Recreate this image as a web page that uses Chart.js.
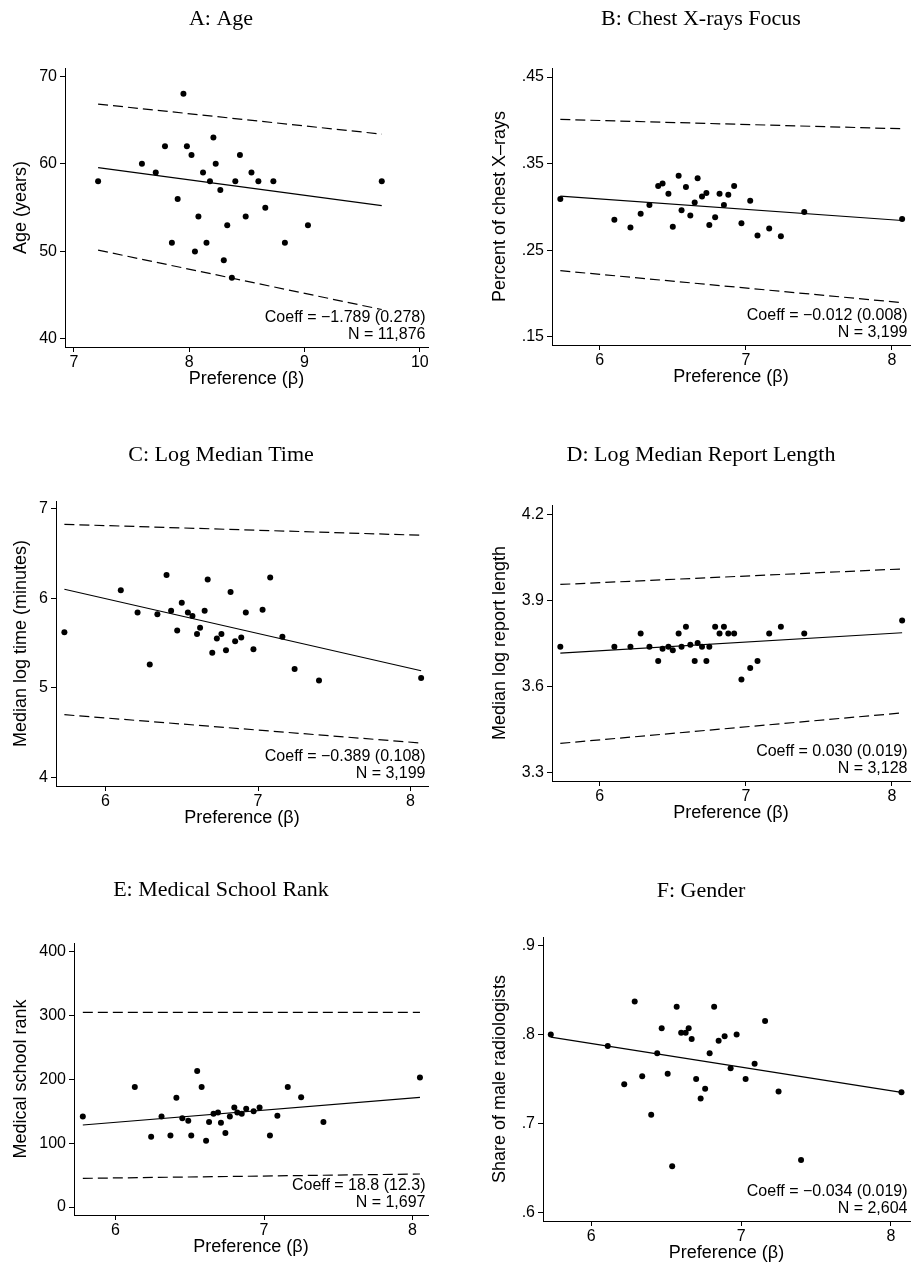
<!DOCTYPE html>
<html>
<head>
<meta charset="utf-8">
<title>Preference and radiologist characteristics</title>
<script src="https://cdn.jsdelivr.net/npm/chart.js@4.4.1/dist/chart.umd.min.js"></script>
<style>
  html, body { margin: 0; padding: 0; background: #fff; }
  #figure { position: relative; width: 915px; height: 1266px; overflow: hidden; }
  #figure canvas { position: absolute; }
</style>
</head>
<body>
<div id="figure"></div>
<script>
// A: Age
const ageBeta = [7.21, 7.59, 7.71, 7.79, 7.85, 7.90, 7.95, 7.98, 8.02, 8.05, 8.08, 8.12, 8.15, 8.18, 8.21,
                 8.23, 8.27, 8.30, 8.33, 8.37, 8.40, 8.44, 8.49, 8.54, 8.60, 8.66, 8.73, 8.83, 9.03, 9.67];
const ageValue = [58, 60, 59, 62, 51, 56, 68, 62, 61, 50, 54, 59, 51, 58, 63,
                  60, 57, 49, 53, 47, 58, 61, 54, 59, 58, 55, 58, 51, 53, 58];
const ageFit = [59.58, 55.23];
const ageUpper = [66.83, 63.40];
const ageLower = [50.15, 43.36];
const ageXTicks = ['7', '8', '9', '10'];
const ageYTicks = ['40', '50', '60', '70'];
const ageNote = ['Coeff = −1.789 (0.278)', 'N = 11,876'];

// B: Chest X-rays Focus
const chestBeta = [5.73, 6.10, 6.21, 6.28, 6.34, 6.40, 6.43, 6.47, 6.50, 6.54, 6.56, 6.59, 6.62, 6.65, 6.67,
                   6.70, 6.73, 6.75, 6.79, 6.82, 6.85, 6.88, 6.92, 6.97, 7.03, 7.08, 7.16, 7.24, 7.40, 8.07];
const chestShare = [.309, .285, .276, .292, .302, .324, .327, .315, .277, .336, .296, .323, .290, .305, .333,
                    .312, .316, .279, .288, .315, .302, .314, .324, .281, .307, .267, .275, .266, .294, .286];
const chestFit = [.3123, .2842];
const chestUpper = [.4010, .3902];
const chestLower = [.2263, .1893];
const chestXTicks = ['6', '7', '8'];
const chestYTicks = ['.15', '.25', '.35', '.45'];
const chestNote = ['Coeff = −0.012 (0.008)', 'N = 3,199'];

// C: Log Median Time
const timeBeta = [5.73, 6.10, 6.21, 6.29, 6.34, 6.40, 6.43, 6.47, 6.50, 6.54, 6.57, 6.60, 6.62, 6.65, 6.67,
                  6.70, 6.73, 6.76, 6.79, 6.82, 6.85, 6.89, 6.92, 6.97, 7.03, 7.08, 7.16, 7.24, 7.40, 8.07];
const timeLog = [5.62, 6.09, 5.84, 5.26, 5.82, 6.26, 5.86, 5.64, 5.95, 5.84, 5.80, 5.60, 5.67, 5.86, 6.21,
                 5.39, 5.55, 5.60, 5.42, 6.07, 5.52, 5.56, 5.84, 5.43, 5.87, 6.23, 5.57, 5.21, 5.08, 5.11];
const timeFit = [6.10, 5.19];
const timeUpper = [6.825, 6.703];
const timeLower = [4.699, 4.383];
const timeXTicks = ['6', '7', '8'];
const timeYTicks = ['4', '5', '6', '7'];
const timeNote = ['Coeff = −0.389 (0.108)', 'N = 3,199'];

// D: Log Median Report Length
const lengthBeta = [5.73, 6.10, 6.21, 6.28, 6.34, 6.40, 6.43, 6.47, 6.50, 6.54, 6.56, 6.59, 6.62, 6.65, 6.67,
                    6.70, 6.73, 6.75, 6.79, 6.82, 6.85, 6.88, 6.92, 6.97, 7.03, 7.08, 7.16, 7.24, 7.40, 8.07];
const lengthLog = [3.739, 3.739, 3.739, 3.785, 3.739, 3.690, 3.732, 3.739, 3.727, 3.785, 3.739, 3.809, 3.746, 3.690, 3.752,
                   3.739, 3.690, 3.739, 3.809, 3.785, 3.809, 3.785, 3.785, 3.625, 3.665, 3.690, 3.785, 3.809, 3.785, 3.831];
const lengthFit = [3.717, 3.788];
const lengthUpper = [3.956, 4.010];
const lengthLower = [3.403, 3.509];
const lengthXTicks = ['6', '7', '8'];
const lengthYTicks = ['3.3', '3.6', '3.9', '4.2'];
const lengthNote = ['Coeff = 0.030 (0.019)', 'N = 3,128'];

// E: Medical School Rank
const rankBeta = [5.78, 6.13, 6.24, 6.31, 6.37, 6.41, 6.45, 6.49, 6.51, 6.55, 6.58, 6.61, 6.63, 6.66, 6.69,
                  6.71, 6.74, 6.77, 6.80, 6.82, 6.85, 6.88, 6.93, 6.97, 7.04, 7.09, 7.16, 7.25, 7.40, 8.05];
const rankValue = [142, 188, 110, 142, 112, 171, 139, 135, 112, 213, 188, 104, 133, 146, 148,
                   132, 116, 142, 156, 148, 146, 154, 150, 156, 112, 143, 188, 172, 133, 203];
const rankFit = [128.5, 171.8];
const rankUpper = [305, 305];
const rankLower = [44.9, 51.7];
const rankXTicks = ['6', '7', '8'];
const rankYTicks = ['0', '100', '200', '300', '400'];
const rankNote = ['Coeff = 18.8 (12.3)', 'N = 1,697'];

// F: Gender
const genderBeta = [5.73, 6.11, 6.22, 6.29, 6.34, 6.40, 6.44, 6.47, 6.51, 6.54, 6.57, 6.60, 6.63, 6.65, 6.67,
                    6.70, 6.73, 6.76, 6.79, 6.82, 6.85, 6.89, 6.93, 6.97, 7.03, 7.09, 7.16, 7.25, 7.40, 8.07];
const genderMale = [.800, .787, .744, .837, .753, .710, .779, .807, .756, .652, .831, .802, .802, .807, .795,
                    .750, .728, .739, .779, .831, .793, .798, .762, .800, .750, .767, .815, .736, .659, .735];
const genderFit = [.797, .735];
const genderXTicks = ['6', '7', '8'];
const genderYTicks = ['.6', '.7', '.8', '.9'];
const genderNote = ['Coeff = −0.034 (0.019)', 'N = 2,604'];

// Panel setup (axis ranges and page geometry)
const panels = [
  { title: 'A: Age', yTitle: 'Age (years)', x: ageBeta, y: ageValue, fit: ageFit, upper: ageUpper, lower: ageLower,
    xTicks: ageXTicks, yTicks: ageYTicks, note: ageNote, xRange: [6.923, 10.071], yRange: [39.08, 70.95],
    box: { canvasLeft: 10, canvasTop: 0, left: 65, top: 68, right: 432, bottom: 347 }, titleY: 19, yTitlePad: 0 },
  { title: 'B: Chest X-rays Focus', yTitle: 'Percent of chest X\u2013rays', x: chestBeta, y: chestShare, fit: chestFit, upper: chestUpper, lower: chestLower,
    xTicks: chestXTicks, yTicks: chestYTicks, note: chestNote, xRange: [5.673, 8.124], yRange: [.1404, .4604],
    box: { canvasLeft: 488, canvasTop: 0, left: 552, top: 68, right: 914, bottom: 345 }, titleY: 19, yTitlePad: 1 },
  { title: 'C: Log Median Time', yTitle: 'Median log time (minutes)', x: timeBeta, y: timeLog, fit: timeFit, upper: timeUpper, lower: timeLower,
    xTicks: timeXTicks, yTicks: timeYTicks, note: timeNote, xRange: [5.675, 8.115], yRange: [3.903, 7.0855],
    box: { canvasLeft: 10, canvasTop: 420, left: 56, top: 501, right: 432, bottom: 786 }, titleY: 455, yTitlePad: 0 },
  { title: 'D: Log Median Report Length', yTitle: 'Median log report length', x: lengthBeta, y: lengthLog, fit: lengthFit, upper: lengthUpper, lower: lengthLower,
    xTicks: lengthXTicks, yTicks: lengthYTicks, note: lengthNote, xRange: [5.673, 8.124], yRange: [3.2721, 4.2325],
    box: { canvasLeft: 488, canvasTop: 420, left: 552, top: 505, right: 914, bottom: 781 }, titleY: 455, yTitlePad: 1 },
  { title: 'E: Medical School Rank', yTitle: 'Medical school rank', x: rankBeta, y: rankValue, fit: rankFit, upper: rankUpper, lower: rankLower,
    xTicks: rankXTicks, yTicks: rankYTicks, note: rankNote, xRange: [5.7206, 8.1042], yRange: [-12.5, 413.6],
    box: { canvasLeft: 10, canvasTop: 860, left: 74, top: 943, right: 432, bottom: 1215 }, titleY: 890, yTitlePad: 0 },
  { title: 'F: Gender', yTitle: 'Share of male radiologists', x: genderBeta, y: genderMale, fit: genderFit,
    xTicks: genderXTicks, yTicks: genderYTicks, note: genderNote, xRange: [5.678, 8.127], yRange: [.5906, .9094],
    box: { canvasLeft: 488, canvasTop: 860, left: 543, top: 937, right: 914, bottom: 1221 }, titleY: 891, yTitlePad: 1 }
];

Chart.defaults.font.family = "'Liberation Sans', Arial, Helvetica, sans-serif";
Chart.defaults.color = '#000';

const X_AXIS_HEIGHT = 45;
const TITLE_SIZE = 22;

// Coefficient / N text in the bottom-right corner of each panel
const notePlugin = {
  id: 'coeffNote',
  afterDatasetsDraw(chart, args, opts) {
    const { ctx, chartArea } = chart;
    ctx.save();
    ctx.font = "16px 'Liberation Sans', Arial, sans-serif";
    ctx.fillStyle = '#000';
    ctx.textAlign = 'right';
    ctx.textBaseline = 'middle';
    opts.lines.forEach((line, i) => {
      ctx.fillText(line, chartArea.right - 2.5, chartArea.bottom - 29 + i * 16.3);
    });
    ctx.restore();
  }
};

const toPoints = (xs, ys) => xs.map((x, i) => ({ x, y: ys[i] }));
const endPoints = (xs, ys) => [{ x: Math.min(...xs), y: ys[0] }, { x: Math.max(...xs), y: ys[1] }];

function axisLines() {
  return {
    grid: { drawOnChartArea: false, drawTicks: true, tickLength: 5, color: '#000', lineWidth: 1 },
    border: { display: true, color: '#000', width: 1 }
  };
}

const figure = document.getElementById('figure');

panels.forEach(p => {
  const b = p.box;
  const width = b.right - b.canvasLeft;
  const height = b.bottom + X_AXIS_HEIGHT - b.canvasTop;
  const lineH = TITLE_SIZE * 1.2;
  const titleTop = p.titleY - b.canvasTop - lineH / 2;
  const titleBottom = b.top - b.canvasTop - titleTop - lineH;

  const canvas = document.createElement('canvas');
  canvas.width = width;
  canvas.height = height;
  canvas.style.left = b.canvasLeft + 'px';
  canvas.style.top = b.canvasTop + 'px';
  figure.appendChild(canvas);

  const datasets = [
    { data: toPoints(p.x, p.y), showLine: false, pointRadius: 3, pointBackgroundColor: '#000', pointBorderWidth: 0 },
    { data: endPoints(p.x, p.fit), showLine: true, borderColor: '#000', borderWidth: 1.2, pointRadius: 0 }
  ];
  if (p.upper) {
    datasets.push({ data: endPoints(p.x, p.upper), showLine: true, borderColor: '#000', borderWidth: 1.2, borderDash: [10, 5], pointRadius: 0 });
    datasets.push({ data: endPoints(p.x, p.lower), showLine: true, borderColor: '#000', borderWidth: 1.2, borderDash: [10, 5], pointRadius: 0 });
  }

  new Chart(canvas, {
    type: 'scatter',
    data: { datasets },
    plugins: [notePlugin],
    options: {
      responsive: false,
      animation: false,
      events: [],
      layout: { padding: 0 },
      plugins: {
        legend: { display: false },
        tooltip: { enabled: false },
        title: {
          display: true,
          text: p.title,
          color: '#000',
          font: { family: "'Liberation Serif', 'Times New Roman', serif", size: TITLE_SIZE, weight: 'normal', lineHeight: 1.2 },
          padding: { top: titleTop, bottom: titleBottom }
        },
        coeffNote: { lines: p.note }
      },
      scales: {
        x: {
          type: 'linear',
          bounds: 'data',
          min: p.xRange[0],
          max: p.xRange[1],
          ...axisLines(),
          afterBuildTicks: s => { s.ticks = p.xTicks.map(v => ({ value: Number(v) })); },
          afterFit: s => { s.height = X_AXIS_HEIGHT; },
          ticks: { autoSkip: false, maxRotation: 0, padding: 1, font: { size: 16 }, callback: (v, i) => p.xTicks[i] },
          title: { display: true, text: 'Preference (\u03b2)', font: { size: 18, lineHeight: 1.2 }, padding: { top: 0, bottom: X_AXIS_HEIGHT - 32 - 10.8 } }
        },
        y: {
          type: 'linear',
          bounds: 'data',
          min: p.yRange[0],
          max: p.yRange[1],
          ...axisLines(),
          afterBuildTicks: s => { s.ticks = p.yTicks.map(v => ({ value: Number(v) })); },
          afterFit: s => { s.width = b.left - b.canvasLeft; },
          ticks: { autoSkip: false, padding: 3, font: { size: 16 }, callback: (v, i) => p.yTicks[i] },
          title: { display: true, text: p.yTitle, font: { size: 18, lineHeight: 1.2 }, padding: { top: p.yTitlePad, bottom: 0 } }
        }
      }
    }
  });
});
</script>
</body>
</html>
